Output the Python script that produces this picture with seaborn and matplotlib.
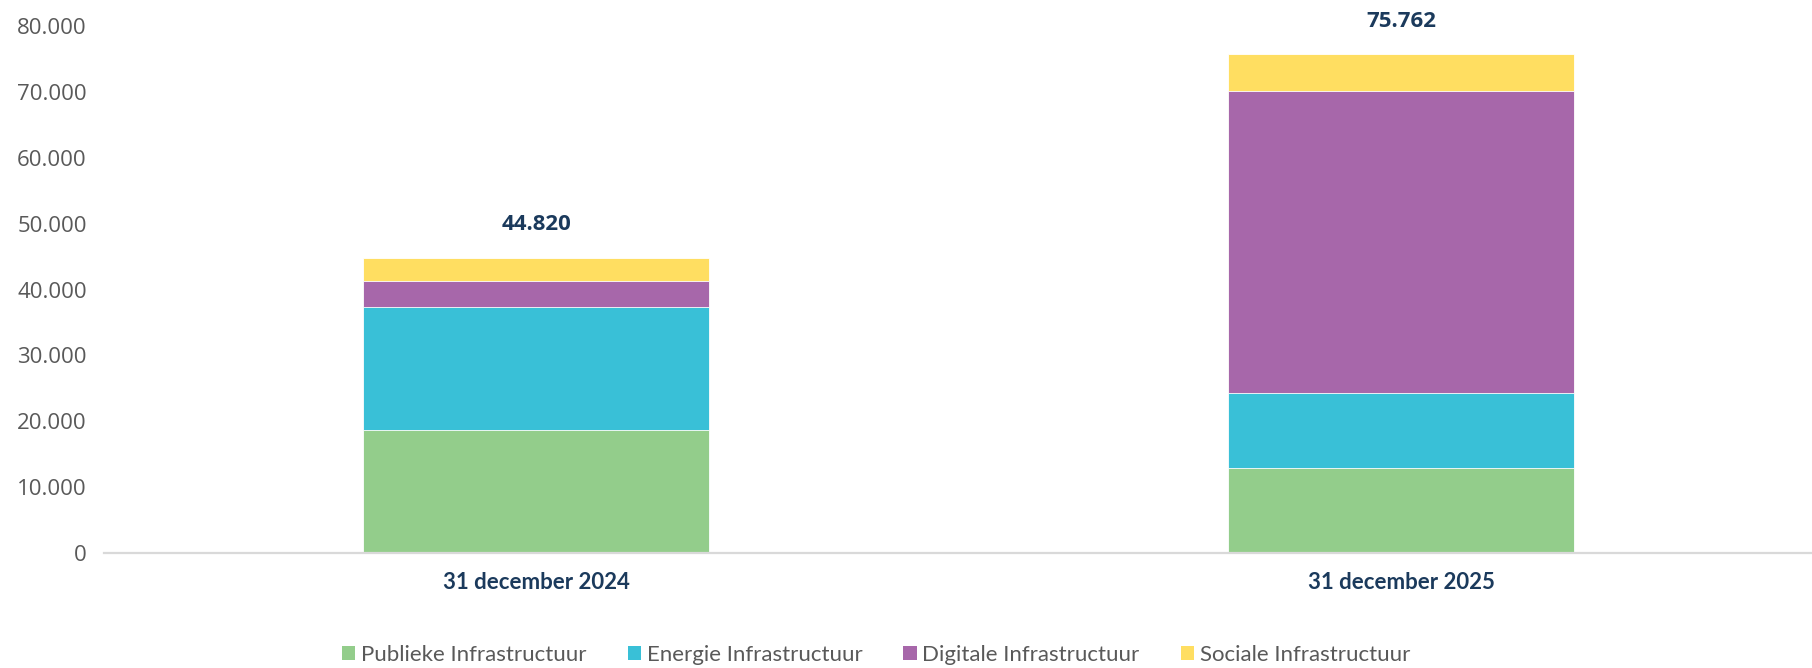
import matplotlib
matplotlib.use("Agg")
import matplotlib.pyplot as plt
import seaborn as sns
import numpy as np
import pandas as pd
from matplotlib.ticker import FuncFormatter, MultipleLocator
from matplotlib.patches import Patch

categories = ["31 december 2024", "31 december 2025"]
series_names = ["Publieke Infrastructuur", "Energie Infrastructuur",
                "Digitale Infrastructuur", "Sociale Infrastructuur"]
publiek = [18700, 12930]
energie = [18640, 11350]
digitaal = [3980, 45960]
sociaal = [3500, 5522]
colors = ["#93CD8B", "#39C0D7", "#A767AA", "#FFDE61"]

sns.set_theme(style="white")
plt.rcParams["font.family"] = ["Open Sans", "DejaVu Sans"]

fig = plt.figure(figsize=(18.12, 6.68), dpi=100)
ax = fig.add_axes([103.5 / 1812, (668 - 552.7) / 668, 1 - 103.5 / 1812, (552.7 - 26.5) / 668])

series = [publiek, energie, digitaal, sociaal]
cum = np.cumsum(np.array(series), axis=0)
# draw from top (largest cumulative) down so lower layers overlay
for i in range(len(series) - 1, -1, -1):
    df = pd.DataFrame({"cat": categories, "val": cum[i]})
    sns.barplot(data=df, x="cat", y="val", color=colors[i], width=0.4,
                edgecolor="white", linewidth=0.6, saturation=1, ax=ax)

totals = cum[-1]
for xi, t in enumerate(totals):
    ax.annotate(f"{int(t):,}".replace(",", "."), xy=(xi, t), xytext=(0, 33),
                textcoords="offset pixels",
                ha="center", va="center", fontsize=16, fontweight="bold",
                color="#1B3A5C", annotation_clip=False)

ax.set_xlim(-0.5, 1.475)
ax.set_ylim(0, 80000)
ax.yaxis.set_major_locator(MultipleLocator(10000))
ax.yaxis.set_major_formatter(FuncFormatter(lambda v, p: f"{int(v):,}".replace(",", ".")))
ax.set_xlabel("")
ax.set_ylabel("")
for s in ["top", "right", "left"]:
    ax.spines[s].set_visible(False)
ax.spines["bottom"].set_color("#D9D9D9")
ax.spines["bottom"].set_linewidth(1.6)
ax.tick_params(axis="y", length=0, pad=12, labelsize=16, labelcolor="#595959")
ax.tick_params(axis="x", length=0, pad=14)
for lbl in ax.get_xticklabels():
    lbl.set_fontfamily(["Lato", "DejaVu Sans"])
    lbl.set_fontweight("bold")
    lbl.set_fontsize(16)
    lbl.set_color("#1B3A5C")
ax.grid(False)

handles = [Patch(facecolor=c, edgecolor="none") for c in colors]
fig.legend(handles, series_names, loc="center", bbox_to_anchor=(876 / 1812, 1 - 655 / 668),
           ncol=4, frameon=False, prop={"family": "Lato", "size": 16},
           labelcolor="#595959", handlelength=0.6, handleheight=0.6,
           handletextpad=0.25, columnspacing=1.85)

fig.savefig("out.png", dpi=100)
